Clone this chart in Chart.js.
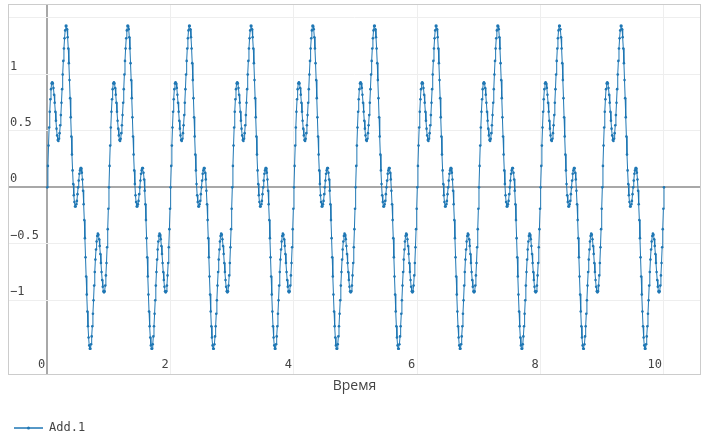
<!DOCTYPE html>
<html>
<head>
<meta charset="utf-8">
<script src="https://cdn.jsdelivr.net/npm/chart.js@4.4.1/dist/chart.umd.min.js"></script>
<style>
  html, body { margin: 0; padding: 0; background: #fff; }
  #wrap { width: 706px; height: 442px; }
</style>
</head>
<body>
<div id="wrap"><canvas id="chart"></canvas></div>
<script>
// Время, шаг 0.01
const time = [
  0,0.01,0.02,0.03,0.04,0.05,0.06,0.07,0.08,0.09,0.1,0.11,0.12,0.13,0.14,0.15,0.16,0.17,0.18,0.19,
  0.2,0.21,0.22,0.23,0.24,0.25,0.26,0.27,0.28,0.29,0.3,0.31,0.32,0.33,0.34,0.35,0.36,0.37,0.38,0.39,
  0.4,0.41,0.42,0.43,0.44,0.45,0.46,0.47,0.48,0.49,0.5,0.51,0.52,0.53,0.54,0.55,0.56,0.57,0.58,0.59,
  0.6,0.61,0.62,0.63,0.64,0.65,0.66,0.67,0.68,0.69,0.7,0.71,0.72,0.73,0.74,0.75,0.76,0.77,0.78,0.79,
  0.8,0.81,0.82,0.83,0.84,0.85,0.86,0.87,0.88,0.89,0.9,0.91,0.92,0.93,0.94,0.95,0.96,0.97,0.98,0.99,
  1,1.01,1.02,1.03,1.04,1.05,1.06,1.07,1.08,1.09,1.1,1.11,1.12,1.13,1.14,1.15,1.16,1.17,1.18,1.19,
  1.2,1.21,1.22,1.23,1.24,1.25,1.26,1.27,1.28,1.29,1.3,1.31,1.32,1.33,1.34,1.35,1.36,1.37,1.38,1.39,
  1.4,1.41,1.42,1.43,1.44,1.45,1.46,1.47,1.48,1.49,1.5,1.51,1.52,1.53,1.54,1.55,1.56,1.57,1.58,1.59,
  1.6,1.61,1.62,1.63,1.64,1.65,1.66,1.67,1.68,1.69,1.7,1.71,1.72,1.73,1.74,1.75,1.76,1.77,1.78,1.79,
  1.8,1.81,1.82,1.83,1.84,1.85,1.86,1.87,1.88,1.89,1.9,1.91,1.92,1.93,1.94,1.95,1.96,1.97,1.98,1.99,
  2,2.01,2.02,2.03,2.04,2.05,2.06,2.07,2.08,2.09,2.1,2.11,2.12,2.13,2.14,2.15,2.16,2.17,2.18,2.19,
  2.2,2.21,2.22,2.23,2.24,2.25,2.26,2.27,2.28,2.29,2.3,2.31,2.32,2.33,2.34,2.35,2.36,2.37,2.38,2.39,
  2.4,2.41,2.42,2.43,2.44,2.45,2.46,2.47,2.48,2.49,2.5,2.51,2.52,2.53,2.54,2.55,2.56,2.57,2.58,2.59,
  2.6,2.61,2.62,2.63,2.64,2.65,2.66,2.67,2.68,2.69,2.7,2.71,2.72,2.73,2.74,2.75,2.76,2.77,2.78,2.79,
  2.8,2.81,2.82,2.83,2.84,2.85,2.86,2.87,2.88,2.89,2.9,2.91,2.92,2.93,2.94,2.95,2.96,2.97,2.98,2.99,
  3,3.01,3.02,3.03,3.04,3.05,3.06,3.07,3.08,3.09,3.1,3.11,3.12,3.13,3.14,3.15,3.16,3.17,3.18,3.19,
  3.2,3.21,3.22,3.23,3.24,3.25,3.26,3.27,3.28,3.29,3.3,3.31,3.32,3.33,3.34,3.35,3.36,3.37,3.38,3.39,
  3.4,3.41,3.42,3.43,3.44,3.45,3.46,3.47,3.48,3.49,3.5,3.51,3.52,3.53,3.54,3.55,3.56,3.57,3.58,3.59,
  3.6,3.61,3.62,3.63,3.64,3.65,3.66,3.67,3.68,3.69,3.7,3.71,3.72,3.73,3.74,3.75,3.76,3.77,3.78,3.79,
  3.8,3.81,3.82,3.83,3.84,3.85,3.86,3.87,3.88,3.89,3.9,3.91,3.92,3.93,3.94,3.95,3.96,3.97,3.98,3.99,
  4,4.01,4.02,4.03,4.04,4.05,4.06,4.07,4.08,4.09,4.1,4.11,4.12,4.13,4.14,4.15,4.16,4.17,4.18,4.19,
  4.2,4.21,4.22,4.23,4.24,4.25,4.26,4.27,4.28,4.29,4.3,4.31,4.32,4.33,4.34,4.35,4.36,4.37,4.38,4.39,
  4.4,4.41,4.42,4.43,4.44,4.45,4.46,4.47,4.48,4.49,4.5,4.51,4.52,4.53,4.54,4.55,4.56,4.57,4.58,4.59,
  4.6,4.61,4.62,4.63,4.64,4.65,4.66,4.67,4.68,4.69,4.7,4.71,4.72,4.73,4.74,4.75,4.76,4.77,4.78,4.79,
  4.8,4.81,4.82,4.83,4.84,4.85,4.86,4.87,4.88,4.89,4.9,4.91,4.92,4.93,4.94,4.95,4.96,4.97,4.98,4.99,
  5,5.01,5.02,5.03,5.04,5.05,5.06,5.07,5.08,5.09,5.1,5.11,5.12,5.13,5.14,5.15,5.16,5.17,5.18,5.19,
  5.2,5.21,5.22,5.23,5.24,5.25,5.26,5.27,5.28,5.29,5.3,5.31,5.32,5.33,5.34,5.35,5.36,5.37,5.38,5.39,
  5.4,5.41,5.42,5.43,5.44,5.45,5.46,5.47,5.48,5.49,5.5,5.51,5.52,5.53,5.54,5.55,5.56,5.57,5.58,5.59,
  5.6,5.61,5.62,5.63,5.64,5.65,5.66,5.67,5.68,5.69,5.7,5.71,5.72,5.73,5.74,5.75,5.76,5.77,5.78,5.79,
  5.8,5.81,5.82,5.83,5.84,5.85,5.86,5.87,5.88,5.89,5.9,5.91,5.92,5.93,5.94,5.95,5.96,5.97,5.98,5.99,
  6,6.01,6.02,6.03,6.04,6.05,6.06,6.07,6.08,6.09,6.1,6.11,6.12,6.13,6.14,6.15,6.16,6.17,6.18,6.19,
  6.2,6.21,6.22,6.23,6.24,6.25,6.26,6.27,6.28,6.29,6.3,6.31,6.32,6.33,6.34,6.35,6.36,6.37,6.38,6.39,
  6.4,6.41,6.42,6.43,6.44,6.45,6.46,6.47,6.48,6.49,6.5,6.51,6.52,6.53,6.54,6.55,6.56,6.57,6.58,6.59,
  6.6,6.61,6.62,6.63,6.64,6.65,6.66,6.67,6.68,6.69,6.7,6.71,6.72,6.73,6.74,6.75,6.76,6.77,6.78,6.79,
  6.8,6.81,6.82,6.83,6.84,6.85,6.86,6.87,6.88,6.89,6.9,6.91,6.92,6.93,6.94,6.95,6.96,6.97,6.98,6.99,
  7,7.01,7.02,7.03,7.04,7.05,7.06,7.07,7.08,7.09,7.1,7.11,7.12,7.13,7.14,7.15,7.16,7.17,7.18,7.19,
  7.2,7.21,7.22,7.23,7.24,7.25,7.26,7.27,7.28,7.29,7.3,7.31,7.32,7.33,7.34,7.35,7.36,7.37,7.38,7.39,
  7.4,7.41,7.42,7.43,7.44,7.45,7.46,7.47,7.48,7.49,7.5,7.51,7.52,7.53,7.54,7.55,7.56,7.57,7.58,7.59,
  7.6,7.61,7.62,7.63,7.64,7.65,7.66,7.67,7.68,7.69,7.7,7.71,7.72,7.73,7.74,7.75,7.76,7.77,7.78,7.79,
  7.8,7.81,7.82,7.83,7.84,7.85,7.86,7.87,7.88,7.89,7.9,7.91,7.92,7.93,7.94,7.95,7.96,7.97,7.98,7.99,
  8,8.01,8.02,8.03,8.04,8.05,8.06,8.07,8.08,8.09,8.1,8.11,8.12,8.13,8.14,8.15,8.16,8.17,8.18,8.19,
  8.2,8.21,8.22,8.23,8.24,8.25,8.26,8.27,8.28,8.29,8.3,8.31,8.32,8.33,8.34,8.35,8.36,8.37,8.38,8.39,
  8.4,8.41,8.42,8.43,8.44,8.45,8.46,8.47,8.48,8.49,8.5,8.51,8.52,8.53,8.54,8.55,8.56,8.57,8.58,8.59,
  8.6,8.61,8.62,8.63,8.64,8.65,8.66,8.67,8.68,8.69,8.7,8.71,8.72,8.73,8.74,8.75,8.76,8.77,8.78,8.79,
  8.8,8.81,8.82,8.83,8.84,8.85,8.86,8.87,8.88,8.89,8.9,8.91,8.92,8.93,8.94,8.95,8.96,8.97,8.98,8.99,
  9,9.01,9.02,9.03,9.04,9.05,9.06,9.07,9.08,9.09,9.1,9.11,9.12,9.13,9.14,9.15,9.16,9.17,9.18,9.19,
  9.2,9.21,9.22,9.23,9.24,9.25,9.26,9.27,9.28,9.29,9.3,9.31,9.32,9.33,9.34,9.35,9.36,9.37,9.38,9.39,
  9.4,9.41,9.42,9.43,9.44,9.45,9.46,9.47,9.48,9.49,9.5,9.51,9.52,9.53,9.54,9.55,9.56,9.57,9.58,9.59,
  9.6,9.61,9.62,9.63,9.64,9.65,9.66,9.67,9.68,9.69,9.7,9.71,9.72,9.73,9.74,9.75,9.76,9.77,9.78,9.79,
  9.8,9.81,9.82,9.83,9.84,9.85,9.86,9.87,9.88,9.89,9.9,9.91,9.92,9.93,9.94,9.95,9.96,9.97,9.98,9.99,
  10
]

// Add.1 (каждые 5 строк = один период)
const addValues = [
  0,0.19,0.37,0.53,0.67,0.78,0.87,0.92,0.93,0.92,0.88,0.82,0.75,0.67,0.59,0.52,0.46,0.42,0.41,0.43,
  0.48,0.55,0.64,0.75,0.87,1,1.12,1.23,1.32,1.39,1.43,1.43,1.4,1.33,1.23,1.1,0.95,0.79,0.62,0.45,
  0.29,0.15,0.03,-0.07,-0.13,-0.17,-0.17,-0.15,-0.12,-0.06,0,0.06,0.12,0.15,0.17,0.17,0.13,0.07,-0.03,-0.15,
  -0.29,-0.45,-0.62,-0.79,-0.95,-1.1,-1.23,-1.33,-1.4,-1.43,-1.43,-1.39,-1.32,-1.23,-1.12,-1,-0.87,-0.75,-0.64,-0.55,
  -0.48,-0.43,-0.41,-0.42,-0.46,-0.52,-0.59,-0.67,-0.75,-0.82,-0.88,-0.92,-0.93,-0.92,-0.87,-0.78,-0.67,-0.53,-0.37,-0.19,
  0,0.19,0.37,0.53,0.67,0.78,0.87,0.92,0.93,0.92,0.88,0.82,0.75,0.67,0.59,0.52,0.46,0.42,0.41,0.43,
  0.48,0.55,0.64,0.75,0.87,1,1.12,1.23,1.32,1.39,1.43,1.43,1.4,1.33,1.23,1.1,0.95,0.79,0.62,0.45,
  0.29,0.15,0.03,-0.07,-0.13,-0.17,-0.17,-0.15,-0.12,-0.06,0,0.06,0.12,0.15,0.17,0.17,0.13,0.07,-0.03,-0.15,
  -0.29,-0.45,-0.62,-0.79,-0.95,-1.1,-1.23,-1.33,-1.4,-1.43,-1.43,-1.39,-1.32,-1.23,-1.12,-1,-0.87,-0.75,-0.64,-0.55,
  -0.48,-0.43,-0.41,-0.42,-0.46,-0.52,-0.59,-0.67,-0.75,-0.82,-0.88,-0.92,-0.93,-0.92,-0.87,-0.78,-0.67,-0.53,-0.37,-0.19,
  0,0.19,0.37,0.53,0.67,0.78,0.87,0.92,0.93,0.92,0.88,0.82,0.75,0.67,0.59,0.52,0.46,0.42,0.41,0.43,
  0.48,0.55,0.64,0.75,0.87,1,1.12,1.23,1.32,1.39,1.43,1.43,1.4,1.33,1.23,1.1,0.95,0.79,0.62,0.45,
  0.29,0.15,0.03,-0.07,-0.13,-0.17,-0.17,-0.15,-0.12,-0.06,0,0.06,0.12,0.15,0.17,0.17,0.13,0.07,-0.03,-0.15,
  -0.29,-0.45,-0.62,-0.79,-0.95,-1.1,-1.23,-1.33,-1.4,-1.43,-1.43,-1.39,-1.32,-1.23,-1.12,-1,-0.87,-0.75,-0.64,-0.55,
  -0.48,-0.43,-0.41,-0.42,-0.46,-0.52,-0.59,-0.67,-0.75,-0.82,-0.88,-0.92,-0.93,-0.92,-0.87,-0.78,-0.67,-0.53,-0.37,-0.19,
  0,0.19,0.37,0.53,0.67,0.78,0.87,0.92,0.93,0.92,0.88,0.82,0.75,0.67,0.59,0.52,0.46,0.42,0.41,0.43,
  0.48,0.55,0.64,0.75,0.87,1,1.12,1.23,1.32,1.39,1.43,1.43,1.4,1.33,1.23,1.1,0.95,0.79,0.62,0.45,
  0.29,0.15,0.03,-0.07,-0.13,-0.17,-0.17,-0.15,-0.12,-0.06,0,0.06,0.12,0.15,0.17,0.17,0.13,0.07,-0.03,-0.15,
  -0.29,-0.45,-0.62,-0.79,-0.95,-1.1,-1.23,-1.33,-1.4,-1.43,-1.43,-1.39,-1.32,-1.23,-1.12,-1,-0.87,-0.75,-0.64,-0.55,
  -0.48,-0.43,-0.41,-0.42,-0.46,-0.52,-0.59,-0.67,-0.75,-0.82,-0.88,-0.92,-0.93,-0.92,-0.87,-0.78,-0.67,-0.53,-0.37,-0.19,
  0,0.19,0.37,0.53,0.67,0.78,0.87,0.92,0.93,0.92,0.88,0.82,0.75,0.67,0.59,0.52,0.46,0.42,0.41,0.43,
  0.48,0.55,0.64,0.75,0.87,1,1.12,1.23,1.32,1.39,1.43,1.43,1.4,1.33,1.23,1.1,0.95,0.79,0.62,0.45,
  0.29,0.15,0.03,-0.07,-0.13,-0.17,-0.17,-0.15,-0.12,-0.06,0,0.06,0.12,0.15,0.17,0.17,0.13,0.07,-0.03,-0.15,
  -0.29,-0.45,-0.62,-0.79,-0.95,-1.1,-1.23,-1.33,-1.4,-1.43,-1.43,-1.39,-1.32,-1.23,-1.12,-1,-0.87,-0.75,-0.64,-0.55,
  -0.48,-0.43,-0.41,-0.42,-0.46,-0.52,-0.59,-0.67,-0.75,-0.82,-0.88,-0.92,-0.93,-0.92,-0.87,-0.78,-0.67,-0.53,-0.37,-0.19,
  0,0.19,0.37,0.53,0.67,0.78,0.87,0.92,0.93,0.92,0.88,0.82,0.75,0.67,0.59,0.52,0.46,0.42,0.41,0.43,
  0.48,0.55,0.64,0.75,0.87,1,1.12,1.23,1.32,1.39,1.43,1.43,1.4,1.33,1.23,1.1,0.95,0.79,0.62,0.45,
  0.29,0.15,0.03,-0.07,-0.13,-0.17,-0.17,-0.15,-0.12,-0.06,0,0.06,0.12,0.15,0.17,0.17,0.13,0.07,-0.03,-0.15,
  -0.29,-0.45,-0.62,-0.79,-0.95,-1.1,-1.23,-1.33,-1.4,-1.43,-1.43,-1.39,-1.32,-1.23,-1.12,-1,-0.87,-0.75,-0.64,-0.55,
  -0.48,-0.43,-0.41,-0.42,-0.46,-0.52,-0.59,-0.67,-0.75,-0.82,-0.88,-0.92,-0.93,-0.92,-0.87,-0.78,-0.67,-0.53,-0.37,-0.19,
  0,0.19,0.37,0.53,0.67,0.78,0.87,0.92,0.93,0.92,0.88,0.82,0.75,0.67,0.59,0.52,0.46,0.42,0.41,0.43,
  0.48,0.55,0.64,0.75,0.87,1,1.12,1.23,1.32,1.39,1.43,1.43,1.4,1.33,1.23,1.1,0.95,0.79,0.62,0.45,
  0.29,0.15,0.03,-0.07,-0.13,-0.17,-0.17,-0.15,-0.12,-0.06,0,0.06,0.12,0.15,0.17,0.17,0.13,0.07,-0.03,-0.15,
  -0.29,-0.45,-0.62,-0.79,-0.95,-1.1,-1.23,-1.33,-1.4,-1.43,-1.43,-1.39,-1.32,-1.23,-1.12,-1,-0.87,-0.75,-0.64,-0.55,
  -0.48,-0.43,-0.41,-0.42,-0.46,-0.52,-0.59,-0.67,-0.75,-0.82,-0.88,-0.92,-0.93,-0.92,-0.87,-0.78,-0.67,-0.53,-0.37,-0.19,
  0,0.19,0.37,0.53,0.67,0.78,0.87,0.92,0.93,0.92,0.88,0.82,0.75,0.67,0.59,0.52,0.46,0.42,0.41,0.43,
  0.48,0.55,0.64,0.75,0.87,1,1.12,1.23,1.32,1.39,1.43,1.43,1.4,1.33,1.23,1.1,0.95,0.79,0.62,0.45,
  0.29,0.15,0.03,-0.07,-0.13,-0.17,-0.17,-0.15,-0.12,-0.06,0,0.06,0.12,0.15,0.17,0.17,0.13,0.07,-0.03,-0.15,
  -0.29,-0.45,-0.62,-0.79,-0.95,-1.1,-1.23,-1.33,-1.4,-1.43,-1.43,-1.39,-1.32,-1.23,-1.12,-1,-0.87,-0.75,-0.64,-0.55,
  -0.48,-0.43,-0.41,-0.42,-0.46,-0.52,-0.59,-0.67,-0.75,-0.82,-0.88,-0.92,-0.93,-0.92,-0.87,-0.78,-0.67,-0.53,-0.37,-0.19,
  0,0.19,0.37,0.53,0.67,0.78,0.87,0.92,0.93,0.92,0.88,0.82,0.75,0.67,0.59,0.52,0.46,0.42,0.41,0.43,
  0.48,0.55,0.64,0.75,0.87,1,1.12,1.23,1.32,1.39,1.43,1.43,1.4,1.33,1.23,1.1,0.95,0.79,0.62,0.45,
  0.29,0.15,0.03,-0.07,-0.13,-0.17,-0.17,-0.15,-0.12,-0.06,0,0.06,0.12,0.15,0.17,0.17,0.13,0.07,-0.03,-0.15,
  -0.29,-0.45,-0.62,-0.79,-0.95,-1.1,-1.23,-1.33,-1.4,-1.43,-1.43,-1.39,-1.32,-1.23,-1.12,-1,-0.87,-0.75,-0.64,-0.55,
  -0.48,-0.43,-0.41,-0.42,-0.46,-0.52,-0.59,-0.67,-0.75,-0.82,-0.88,-0.92,-0.93,-0.92,-0.87,-0.78,-0.67,-0.53,-0.37,-0.19,
  0,0.19,0.37,0.53,0.67,0.78,0.87,0.92,0.93,0.92,0.88,0.82,0.75,0.67,0.59,0.52,0.46,0.42,0.41,0.43,
  0.48,0.55,0.64,0.75,0.87,1,1.12,1.23,1.32,1.39,1.43,1.43,1.4,1.33,1.23,1.1,0.95,0.79,0.62,0.45,
  0.29,0.15,0.03,-0.07,-0.13,-0.17,-0.17,-0.15,-0.12,-0.06,0,0.06,0.12,0.15,0.17,0.17,0.13,0.07,-0.03,-0.15,
  -0.29,-0.45,-0.62,-0.79,-0.95,-1.1,-1.23,-1.33,-1.4,-1.43,-1.43,-1.39,-1.32,-1.23,-1.12,-1,-0.87,-0.75,-0.64,-0.55,
  -0.48,-0.43,-0.41,-0.42,-0.46,-0.52,-0.59,-0.67,-0.75,-0.82,-0.88,-0.92,-0.93,-0.92,-0.87,-0.78,-0.67,-0.53,-0.37,-0.19,
  0
]

const xTicks = [0, 2, 4, 6, 8, 10]
const yTicks = [-1, -0.5, 0, 0.5, 1]
const seriesName = 'Add.1'
const xTitle = 'Время'

const MONO = 'DejaVu Sans Mono'
const LINE = '#1f77b4'
const GRID = '#eeeeee'
const ZERO = '#a8a8a8'

// рамка вокруг области графика + точка на образце линии в легенде
const frame = {
  id: 'frame',
  beforeDatasetsDraw(chart) {
    const { ctx, chartArea: a } = chart
    ctx.save()
    ctx.strokeStyle = '#cccccc'
    ctx.lineWidth = 1
    ctx.strokeRect(Math.round(a.left) + 0.5, Math.round(a.top) + 0.5, Math.round(a.right - a.left) - 1, Math.round(a.bottom - a.top) - 1)
    ctx.restore()
  },
  afterDraw(chart) {
    const hb = chart.legend && chart.legend.legendHitBoxes[0]
    if (!hb) return
    const { ctx } = chart
    ctx.save()
    ctx.fillStyle = LINE
    ctx.beginPath()
    ctx.arc(hb.left + 14.5, hb.top + hb.height / 2, 1.5, 0, Math.PI * 2)
    ctx.fill()
    ctx.restore()
  }
}

const fmt = v => String(v).replace('-', '\u2212')

new Chart(document.getElementById('chart'), {
  type: 'line',
  data: {
    datasets: [{
      label: seriesName,
      data: time.map((t, i) => ({ x: t, y: addValues[i] })),
      borderColor: LINE,
      backgroundColor: LINE,
      borderWidth: 1,
      pointRadius: 1.3,
      pointBorderWidth: 0,
      pointBackgroundColor: LINE,
      tension: 0
    }]
  },
  options: {
    responsive: true,
    maintainAspectRatio: false,
    animation: false,
    layout: { padding: { left: 8, top: 3, right: 5, bottom: -2 } },
    plugins: {
      legend: {
        position: 'bottom',
        align: 'start',
        labels: { boxWidth: 29, boxHeight: 0, padding: 6, color: '#444', font: { family: MONO, size: 12 } }
      },
      tooltip: { enabled: false }
    },
    scales: {
      x: {
        type: 'linear',
        min: -0.637,
        max: 10.6,
        afterFit: s => { s.height = 41; s.paddingLeft = 0; s.paddingRight = 0 },
        border: { display: false },
        grid: {
          drawTicks: false,
          color: c => c.tick && c.tick.value === 0 ? ZERO : GRID,
          lineWidth: c => c.tick && c.tick.value === 0 ? 2 : 1
        },
        ticks: {
          stepSize: 2, includeBounds: false, mirror: true, padding: 3, align: 'end', labelOffset: -2,
          maxRotation: 0, autoSkip: false, color: '#444', font: { family: MONO, size: 12 },
          callback: v => xTicks.includes(v) ? fmt(v) : ''
        },
        title: { display: true, text: xTitle, color: '#444', font: { family: 'Open Sans', size: 14 }, padding: { top: 0, bottom: 22 } }
      },
      y: {
        min: -1.662,
        max: 1.624,
        afterFit: s => { s.width = 0; s.paddingTop = 0; s.paddingBottom = 0 },
        border: { display: false },
        grid: {
          drawTicks: false,
          color: c => !c.tick ? GRID : c.tick.value === 0 ? ZERO : c.tick.value === -1.5 ? 'rgba(0,0,0,0)' : GRID,
          lineWidth: c => c.tick && c.tick.value === 0 ? 2 : 1
        },
        ticks: {
          stepSize: 0.5, includeBounds: false, mirror: true, padding: 2, labelOffset: -8,
          color: '#444', font: { family: MONO, size: 12 },
          callback: v => yTicks.includes(v) ? fmt(v) : ''
        }
      }
    }
  },
  plugins: [frame]
})
</script>
</body>
</html>
